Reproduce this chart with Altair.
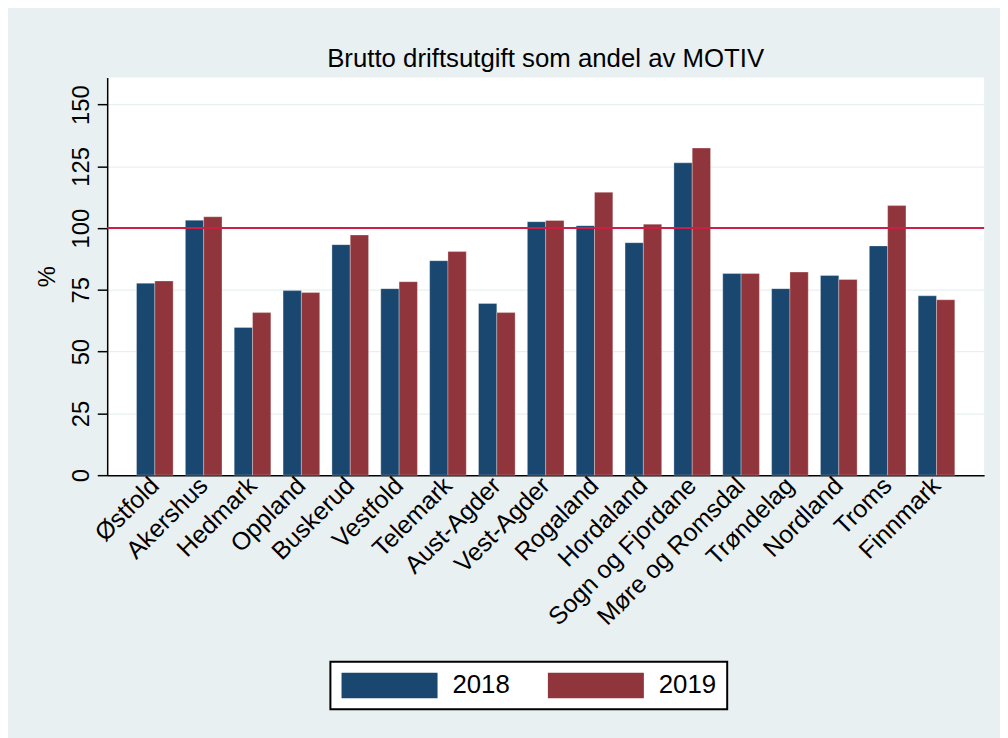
import altair as alt
import pandas as pd

fylker = ["Østfold", "Akershus", "Hedmark", "Oppland", "Buskerud", "Vestfold",
          "Telemark", "Aust-Agder", "Vest-Agder", "Rogaland", "Hordaland",
          "Sogn og Fjordane", "Møre og Romsdal", "Trøndelag", "Nordland",
          "Troms", "Finnmark"]
v2018 = [77.7, 103.2, 59.8, 74.7, 93.3, 75.5, 86.8, 69.5, 102.6, 101.0, 94.1,
         126.4, 81.6, 75.5, 80.8, 92.8, 72.6]
v2019 = [78.6, 104.6, 65.8, 73.9, 97.2, 78.3, 90.5, 65.8, 103.1, 114.5, 101.6,
         132.4, 81.6, 82.2, 79.2, 109.1, 71.0]
years = ["2018", "2019"]
colors = ["#1a476f", "#90353b"]
y_ticks = [0, 25, 50, 75, 100, 125, 150]
ref_value = [100]

rows = []
for f, a, b in zip(fylker, v2018, v2019):
    rows.append({"Fylke": f, "År": "2018", "Verdi": a})
    rows.append({"Fylke": f, "År": "2019", "Verdi": b})
df = pd.DataFrame(rows)

FONT = "Liberation Sans"

bars = alt.Chart(df).mark_bar(stroke="white", strokeWidth=0.6, strokeOpacity=0.5).encode(
    x=alt.X("Fylke:N", sort=fylker, title=None,
            scale=alt.Scale(paddingInner=0.25, paddingOuter=0.6),
            axis=alt.Axis(labelAngle=315, labelAlign="right", labelBaseline="middle",
                          labelPadding=6, ticks=False, domainColor="black",
                          domainWidth=1.5, labelFontSize=25, labelFont=FONT,
                          labelColor="black", grid=False, labelLimit=400)),
    xOffset=alt.XOffset("År:N", scale=alt.Scale(domain=years, paddingInner=0, paddingOuter=0)),
    y=alt.Y("Verdi:Q", title="%",
            scale=alt.Scale(domain=[0, 161], nice=False),
            axis=alt.Axis(values=y_ticks, labelAngle=270, labelAlign="center",
                          labelBaseline="bottom", labelPadding=4, tickSize=10,
                          tickColor="black", tickWidth=1.5, domainColor="black",
                          domainWidth=1.5, labelFontSize=24, labelFont=FONT,
                          labelColor="black", grid=True, gridColor="#e8eff1",
                          gridWidth=1.2, titleFontSize=24, titleFont=FONT,
                          titleFontWeight="normal", titleColor="black",
                          titlePadding=10)),
    color=alt.Color("År:N", scale=alt.Scale(domain=years, range=colors),
                    legend=alt.Legend(
                        orient="none", legendX=225, legendY=589,
                        direction="horizontal", columns=2, title=None,
                        symbolType="M-1,-0.27H1V0.27H-1Z", symbolSize=9409,
                        clipHeight=26, symbolStrokeWidth=0, symbolOpacity=1,
                        labelFontSize=26, labelFont=FONT, labelColor="black",
                        labelOffset=15, columnPadding=38, padding=11,
                        strokeColor="black", fillColor="white")),
)

rule = alt.Chart(pd.DataFrame({"ref": ref_value})).mark_rule(
    color="#cc1f47", strokeWidth=2).encode(y=alt.Y("ref:Q", title="%"))

chart = alt.layer(bars, rule).properties(
    width=884, height=401,
    autosize=alt.AutoSizeParams(type="none"),
    padding={"left": 100, "top": 67, "right": 16, "bottom": 262},
    background="#e9f0f2",
    title=alt.TitleParams("Brutto driftsutgift som andel av MOTIV", fontSize=26,
                          fontWeight="normal", font=FONT, color="black",
                          anchor="middle", offset=5),
).configure_view(fill="white", stroke=None).configure_legend(strokeWidth=2)

chart.save("out.html", embed_options={"renderer": "svg", "actions": False})
